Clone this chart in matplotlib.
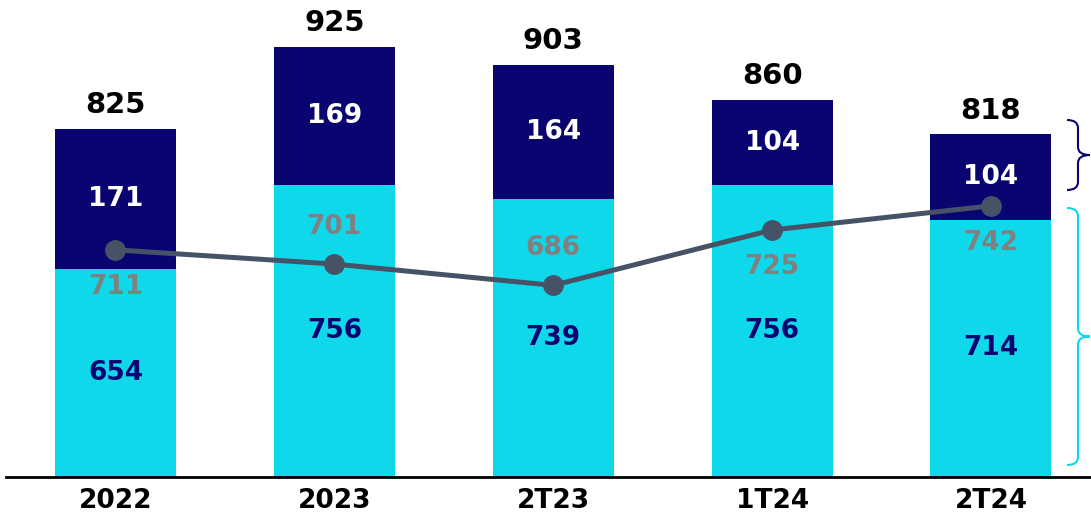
import matplotlib.pyplot as plt
from matplotlib.path import Path
from matplotlib.patches import PathPatch

periods = ["2022", "2023", "2T23", "1T24", "2T24"]
base_vals = [654, 756, 739, 756, 714]
top_vals = [171, 169, 164, 104, 104]
totals = [825, 925, 903, 860, 818]
line_vals = [711, 701, 686, 725, 742]
line_label_above = [False, True, True, False, False]

CYAN = "#10D8EB"
NAVY = "#0A0470"
LINE = "#465366"
GREY = "#808080"

W, H = 1091, 516


def brace(fig, x_end, x_mid, x_tip, y_top, y_bot, color):
    # curly brace in pixel coords (y from top), pointing right
    y_mid = (y_top + y_bot) / 2
    r = 8
    pts = [
        (x_end, y_top), (x_mid, y_top), (x_mid, y_top + r),
        (x_mid, y_mid - r), (x_mid, y_mid), (x_tip, y_mid),
        (x_mid, y_mid), (x_mid, y_mid + r),
        (x_mid, y_bot - r), (x_mid, y_bot), (x_end, y_bot),
    ]
    codes = [Path.MOVETO, Path.CURVE3, Path.CURVE3,
             Path.LINETO, Path.CURVE3, Path.CURVE3,
             Path.CURVE3, Path.CURVE3,
             Path.LINETO, Path.CURVE3, Path.CURVE3]
    pts = [(x / W, (H - y) / H) for x, y in pts]
    fig.patches.append(PathPatch(Path(pts, codes), fill=False, edgecolor=color,
                                 linewidth=1.5, transform=fig.transFigure))


def main() -> None:
    plt.rcParams["font.family"] = "DejaVu Sans"
    fig = plt.figure(figsize=(W / 100, H / 100), dpi=100)
    ax = fig.add_axes([6 / W, (H - 477) / H, 1085 / W, 477 / H])
    ax2 = ax.twinx()

    x = list(range(len(periods)))
    width = 0.553
    ax.bar(x, base_vals, width=width, color=CYAN, zorder=2)
    ax.bar(x, top_vals, width=width, bottom=base_vals, color=NAVY, zorder=2)

    ax.set_ylim(400, 982)
    ax.set_xlim(-0.5, 4.457)
    for i in x:
        ax.text(i, (400 + base_vals[i]) / 2, str(base_vals[i]), ha="center", va="center",
                color=NAVY, fontsize=19, fontweight="bold", zorder=3)
        ax.text(i, base_vals[i] + top_vals[i] / 2, str(top_vals[i]), ha="center", va="center",
                color="white", fontsize=19, fontweight="bold", zorder=3)
        ax.annotate(str(totals[i]), xy=(i, totals[i]), xytext=(0, 17), textcoords="offset points",
                    ha="center", va="center", fontsize=21, fontweight="bold", color="black")

    ax2.plot(x, line_vals, color=LINE, linewidth=3.6, marker="o", markersize=14, zorder=4)
    ax2.set_ylim(551, 887)
    for i in x:
        dy = 27 if line_label_above[i] else -27
        ax2.annotate(str(line_vals[i]), xy=(i, line_vals[i]), xytext=(0, dy),
                     textcoords="offset points", ha="center", va="center",
                     fontsize=19, fontweight="bold", color=GREY)

    for a in (ax, ax2):
        for side in ["top", "right", "left"]:
            a.spines[side].set_visible(False)
        a.set_yticks([])
    ax2.spines["bottom"].set_visible(False)
    ax.spines["bottom"].set_linewidth(2)
    ax.spines["bottom"].set_color("black")
    ax.spines["bottom"].set_zorder(5)
    ax.set_xticks(x)
    ax.set_xticklabels(periods, fontsize=19, fontweight="bold")
    ax.tick_params(axis="x", length=0, pad=8)

    brace(fig, 1067, 1078, 1090, 120, 190, NAVY)
    brace(fig, 1067, 1078, 1090, 208, 465, CYAN)

    fig.savefig("out.png", dpi=100)
    plt.close(fig)


if __name__ == "__main__":
    main()
